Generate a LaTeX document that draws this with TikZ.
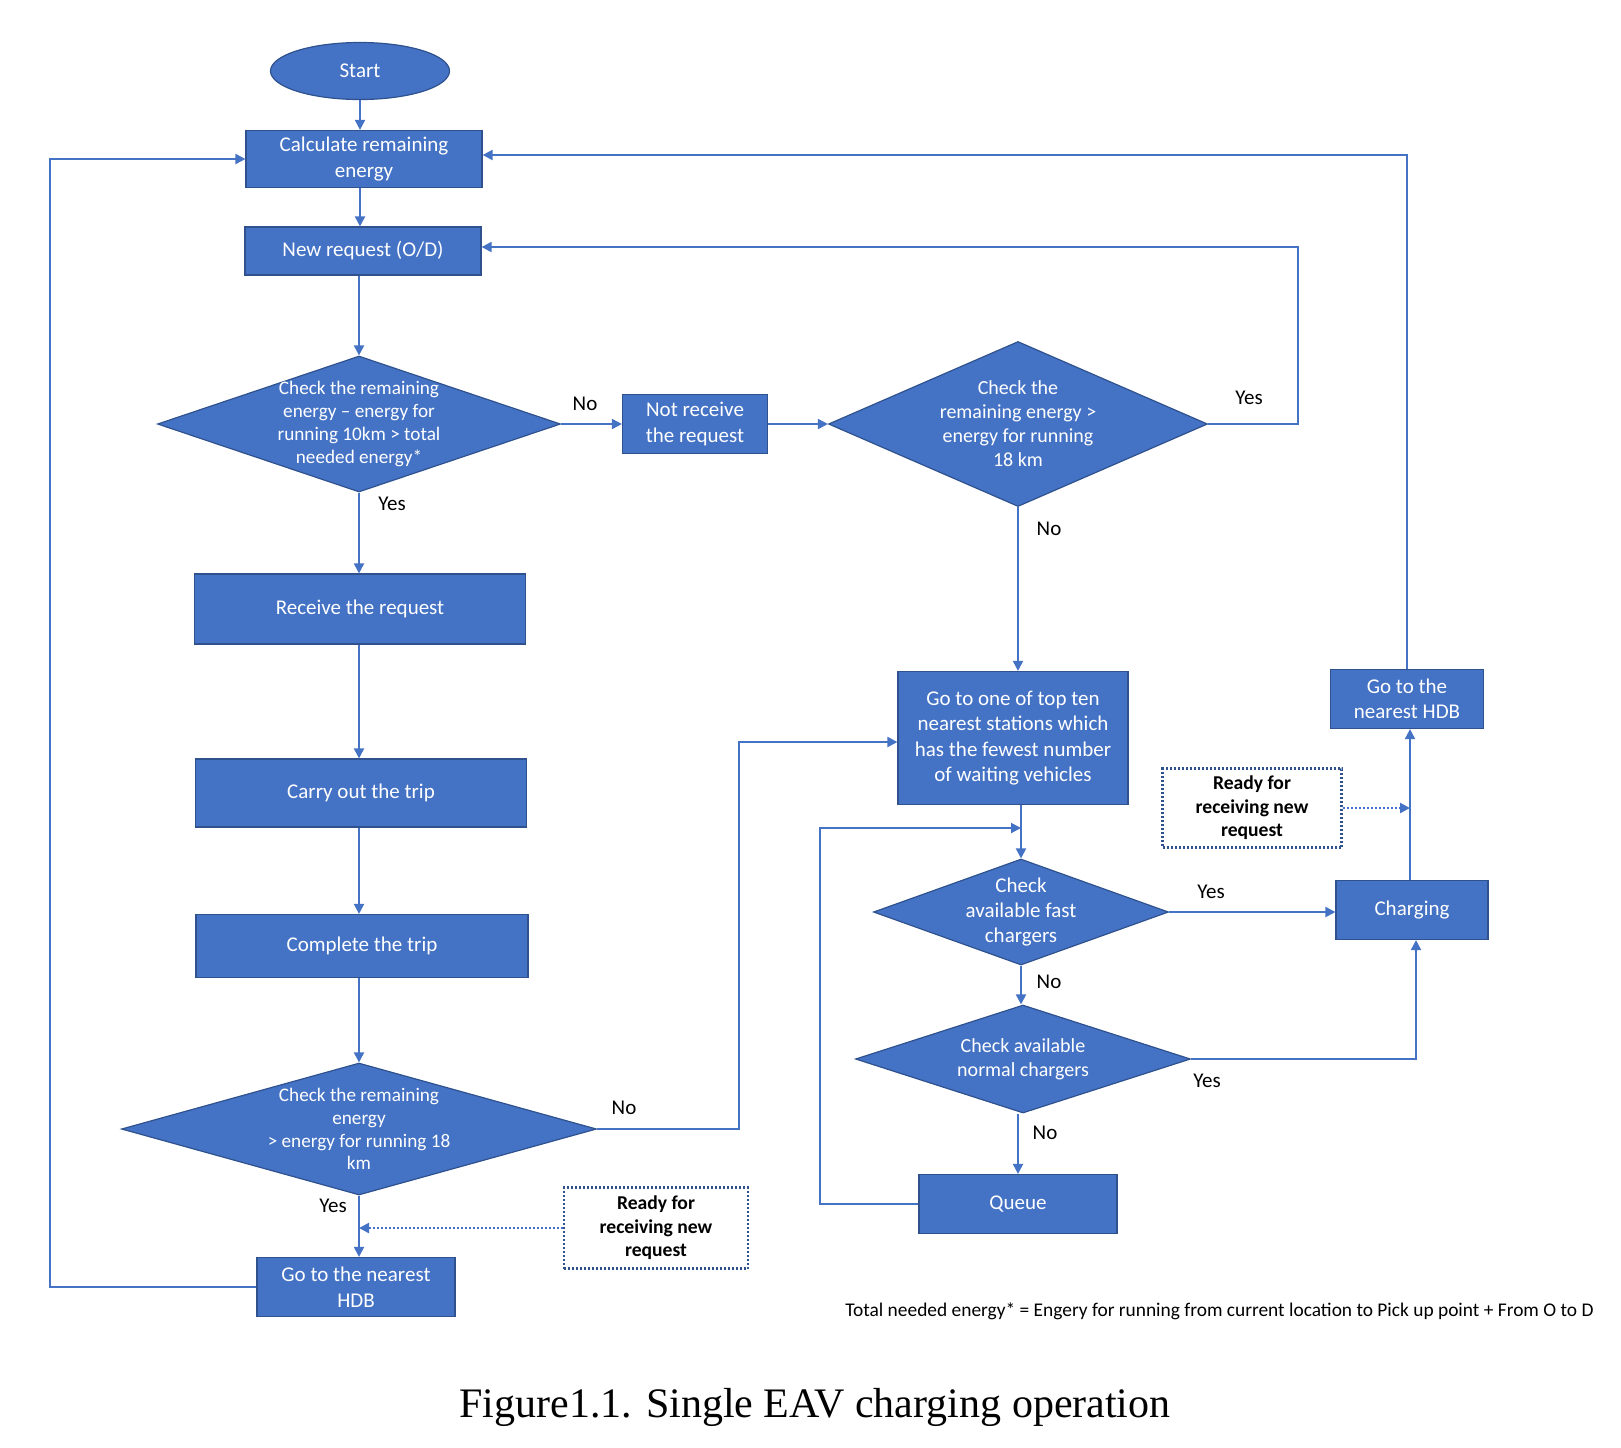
\documentclass[tikz,border=0pt]{standalone}
\usepackage{fontspec}
\setmainfont{Carlito}
\newfontfamily\capfont{Liberation Serif}
\usetikzlibrary{arrows.meta,shapes}
\definecolor{ofblue}{HTML}{4472C4}
\definecolor{ofedge}{HTML}{2F528F}

\begin{document}
\begin{tikzpicture}[x=0.5pt,y=-0.5pt,
  >={Triangle[length=5pt,width=5pt]},
  box/.style={draw=ofedge,line width=0.6pt,fill=ofblue,text=white,align=center,inner sep=1pt,font=\fontsize{10.5}{12.7}\selectfont},
  decision/.style={diamond,draw=ofedge,line width=0.6pt,fill=ofblue,inner sep=0pt},
  dtext/.style={text=white,align=center,inner sep=0pt,font=\fontsize{10}{12}\selectfont},
  ready/.style={draw=ofedge,line width=1.1pt,dash pattern=on 1pt off 1pt,fill=white,align=center,font=\fontsize{9.8}{11.8}\selectfont\bfseries},
  lbl/.style={font=\fontsize{10.5}{12}\selectfont},
  flow/.style={draw=ofblue,line width=1pt},
  dotflow/.style={draw=ofblue,line width=1.1pt,dash pattern=on 1pt off 1pt}]
          \useasboundingbox (0,0) rectangle (1621,1447);
          % left column
          \node[box,ellipse,minimum width=89.5pt,minimum height=28.5pt] (start) at (360,71) {Start};
          \node[box,minimum width=118pt,minimum height=28.5pt] (calc) at (364,159) {Calculate remaining\\energy};
          \node[box,minimum width=118pt,minimum height=24pt] (newreq) at (363,251) {New request (O/D)};
          \node[decision,minimum width=201.5pt,minimum height=68pt] (chk1) at (359,424) {};
          \node[dtext,font=\fontsize{9.6}{11.5}\selectfont] (chk1t) at (chk1) {Check the remaining\\energy – energy for\\running 10km > total\\needed energy*};
          \node[box,minimum width=165.5pt,minimum height=35pt] (recv) at (360,609) {Receive the request};
          \node[box,minimum width=165.5pt,minimum height=34pt] (carry) at (361,793) {Carry out the trip};
          \node[box,minimum width=166pt,minimum height=31.5pt] (compl) at (362,946) {Complete the trip};
          \node[decision,minimum width=237.5pt,minimum height=66pt] (chk3) at (359,1129) {};
          \node[dtext,font=\fontsize{9.6}{11.4}\selectfont] (chk3t) at (chk3) {Check the remaining\\energy\\> energy for running 18\\km};
          \node[box,minimum width=99pt,minimum height=29.5pt] (hdbL) at (356,1287) {Go to the nearest\\HDB};
          \node[ready,minimum width=92pt,minimum height=40.5pt] (readyL) at (656,1228) {Ready for\\receiving new\\request};
          % middle and right
          \node[box,minimum width=72.5pt,minimum height=29.5pt] (notrec) at (695,424) {Not receive\\the request};
          \node[decision,minimum width=189.5pt,minimum height=82.5pt] (chk2) at (1018,424) {};
          \node[dtext] (chk2t) at (chk2) {Check the\\remaining energy >\\energy for running\\18 km};
          \node[box,minimum width=115pt,minimum height=66.5pt] (topten) at (1013,738) {Go to one of top ten\\nearest stations which\\has the fewest number\\of waiting vehicles};
          \node[decision,minimum width=147.5pt,minimum height=53pt] (fast) at (1021,912) {};
          \node[dtext,font=\fontsize{10.5}{12.7}\selectfont] (fastt) at (fast) {Check\\available fast\\chargers};
          \node[decision,minimum width=167.5pt,minimum height=54pt] (normal) at (1023,1059) {};
          \node[dtext] (normalt) at (normal) {Check available\\normal chargers};
          \node[box,minimum width=99pt,minimum height=29.5pt] (queue) at (1018,1204) {Queue};
          \node[box,minimum width=76pt,minimum height=29.5pt] (charge) at (1412,910) {Charging};
          \node[box,minimum width=76.5pt,minimum height=29.5pt] (hdbR) at (1407,699) {Go to the\\nearest HDB};
          \node[ready,minimum width=89.5pt,minimum height=39.5pt] (readyR) at (1252,808) {Ready for\\receiving new\\request};
          \coordinate (yesR) at (1298,300);
          \coordinate (noL) at (739,742);
          \coordinate (backL) at (50,160);
          \coordinate (loopQ) at (820,828);
          \coordinate (joinQ) at (1021,828);
          % connectors
          \draw[flow,->] (start.south) -- (start.south |- calc.north);
          \draw[flow,->] (calc.south -| start) -- (newreq.north -| start);
          \draw[flow,->] (newreq.south -| chk1) -- (chk1.north);
          \draw[flow,->] (chk1.east) -- (notrec.west);
          \draw[flow,->] (notrec.east) -- (chk2.west);
          \draw[flow,->] (chk2.east) -| (yesR) |- ([yshift=2pt]newreq.east);
          \draw[flow,->] (chk2.south) -- (chk2.south |- topten.north);
          \draw[flow,->] (chk1.south) -- (chk1.south |- recv.north);
          \draw[flow,->] (recv.south -| chk1) -- (carry.north -| chk1);
          \draw[flow,->] (carry.south -| chk1) -- (compl.north -| chk1);
          \draw[flow,->] (compl.south -| chk3) -- (chk3.north);
          \draw[flow,->] (chk3.south) -- (chk3.south |- hdbL.north);
          \draw[dotflow,->] (readyL.west) -- (readyL.west -| chk3.south);
          \draw[flow,->] (chk3.east) -| (noL) -- (topten.west |- noL);
          \draw[flow,->] (hdbL.west) -| (backL) |- (calc.west);
          \draw[flow,->] (topten.south -| fast) -- (fast.north);
          \draw[flow,->] (queue.west) -| (loopQ) -- (joinQ);
          \draw[flow,->] (fast.east) -- (fast.east -| charge.west);
          \draw[flow,->] (fast.south) -- (fast.south |- normal.north);
          \draw[flow,->] (normal.east) -| ([xshift=2pt]charge.south);
          \draw[flow,->] (normal.south -| queue) -- (queue.north);
          \draw[flow,->] ([xshift=-1pt]charge.north) -- ([xshift=-1pt]charge.north |- hdbR.south);
          \draw[dotflow,->] (readyR.east) -- ([xshift=-1pt]readyR.east -| charge.north);
          \draw[flow,->] (hdbR.north) |- ([yshift=2pt]calc.east);
          % branch labels
          \node[lbl] (no1) at (585,404) {No};
          \node[lbl] (yes1) at (392,504) {Yes};
          \node[lbl] (yes2) at (1249,398) {Yes};
          \node[lbl] (no2) at (1049,529) {No};
          \node[lbl] (no3) at (624,1108) {No};
          \node[lbl] (yes3) at (333,1206) {Yes};
          \node[lbl] (yes4) at (1211,892) {Yes};
          \node[lbl] (no4) at (1049,982) {No};
          \node[lbl] (yes5) at (1207,1081) {Yes};
          \node[lbl] (no5) at (1045,1133) {No};
          % footnote and caption
          \node[anchor=west,inner sep=0pt,font=\fontsize{9.7}{11}\selectfont] (note) at (845,1311) {Total needed energy* = Engery for running from current location to Pick up point + From O to D};
          \node[inner sep=0pt,font=\capfont\fontsize{21}{24}\selectfont] (caption) at (815,1407) {Figure1.1. Single EAV charging operation};
        \end{tikzpicture}
\end{document}
